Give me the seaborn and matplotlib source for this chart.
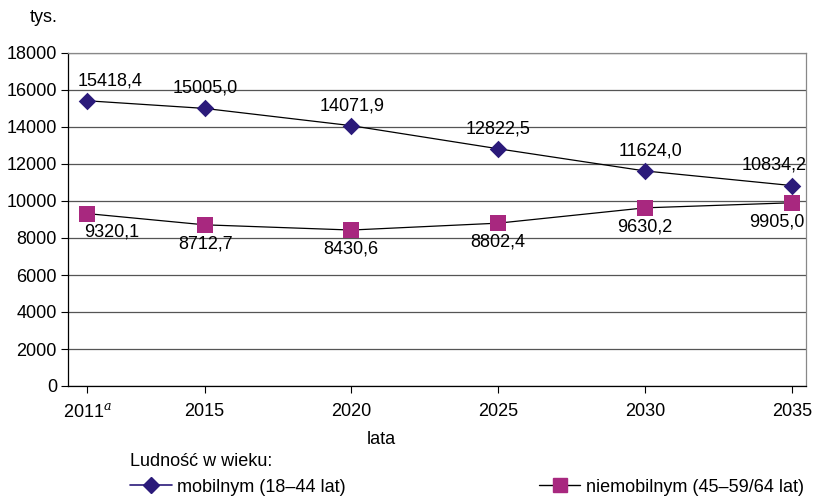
import matplotlib
matplotlib.use("Agg")
import matplotlib.pyplot as plt
from matplotlib.lines import Line2D
import seaborn as sns
import pandas as pd

years = [2011, 2015, 2020, 2025, 2030, 2035]
year_labels = ["2011$^{a}$", "2015", "2020", "2025", "2030", "2035"]
mobile = [15418.4, 15005.0, 14071.9, 12822.5, 11624.0, 10834.2]
nonmobile = [9320.1, 8712.7, 8430.6, 8802.4, 9630.2, 9905.0]
mobile_name = "mobilnym (18–44 lat)"
nonmobile_name = "niemobilnym (45–59/64 lat)"
yticks = list(range(0, 18001, 2000))

NAVY = "#2B1A7A"
MAGENTA = "#A8287F"

sns.set_theme(style="white")
plt.rcParams["font.family"] = ["Liberation Sans", "DejaVu Sans"]
plt.rcParams["mathtext.fontset"] = "dejavuserif"
plt.rcParams["text.color"] = "black"
plt.rcParams["xtick.color"] = "black"
plt.rcParams["ytick.color"] = "black"

fig = plt.figure(figsize=(8.13, 4.96), dpi=100)
ax = fig.add_axes([68/813, 1-386/496, (806-68)/813, (386-53)/496])

df_m = pd.DataFrame({"year": years, "val": mobile})
df_n = pd.DataFrame({"year": years, "val": nonmobile})

sns.lineplot(data=df_m, x="year", y="val", ax=ax, color="black", lw=0.9, zorder=3)
sns.lineplot(data=df_n, x="year", y="val", ax=ax, color="black", lw=0.9, zorder=3)
sns.scatterplot(data=df_m, x="year", y="val", ax=ax, marker="D", color=NAVY, s=80,
                edgecolor=NAVY, linewidth=0, zorder=4)
sns.scatterplot(data=df_n, x="year", y="val", ax=ax, marker="s", color=MAGENTA, s=130,
                edgecolor=MAGENTA, linewidth=0, zorder=4)

fs = 13
def fmt(v):
    return f"{v:.1f}".replace(".", ",")

m_dx = [23, 1, 1, 0, 5, -18]
n_dx = [25, 1, -1, 0, 0, -15]
for x, v, dx in zip(years, mobile, m_dx):
    ax.annotate(fmt(v), (x, v), xytext=(dx*0.72, 14.5), textcoords="offset points",
                ha="center", va="center", fontsize=fs, zorder=5)
for x, v, dx in zip(years, nonmobile, n_dx):
    ax.annotate(fmt(v), (x, v), xytext=(dx*0.72, -13.5), textcoords="offset points",
                ha="center", va="center", fontsize=fs, zorder=5)

ax.set_xlim(2010.35, 2035.48)
ax.set_ylim(0, 18000)
ax.set_yticks(yticks)
ax.set_yticklabels([str(t) for t in yticks], fontsize=fs)
ax.set_xticks(years)
ax.set_xticklabels(year_labels, fontsize=fs)
ax.set_xlabel("")
ax.set_ylabel("")
ax.yaxis.grid(True, color="#555555", lw=0.9)
ax.set_axisbelow(True)
ax.tick_params(axis="both", which="both", direction="out", length=5, width=0.8,
               color="black", left=True, bottom=True, pad=3)
ax.tick_params(axis="x", pad=7)
for s in ["left", "bottom"]:
    ax.spines[s].set_color("black")
    ax.spines[s].set_linewidth(0.9)
for s in ["top", "right"]:
    ax.spines[s].set_color("#888888")
    ax.spines[s].set_linewidth(0.9)

fig.text(30/813, 1-18/496, "tys.", fontsize=fs, va="center", ha="left")
fig.text(381/813, 1-440/496, "lata", fontsize=fs, va="center", ha="center")
fig.text(130/813, 1-461/496, "Ludność w wieku:", fontsize=fs, va="center", ha="left")

handles = [Line2D([0], [0], color=NAVY, lw=1.2, marker="D", markersize=8,
                  markerfacecolor=NAVY, markeredgecolor=NAVY),
           Line2D([0], [0], color="black", lw=1.0, marker="s", markersize=10,
                  markerfacecolor=MAGENTA, markeredgecolor=MAGENTA)]
fig.legend(handles, [mobile_name, nonmobile_name], ncol=2, frameon=False,
           loc="center left", bbox_to_anchor=(130/813, 1-487/496), fontsize=fs,
           handlelength=2.3, handletextpad=0.3, columnspacing=10.7, borderaxespad=0,
           borderpad=0)

fig.savefig("out.png", dpi=100)
